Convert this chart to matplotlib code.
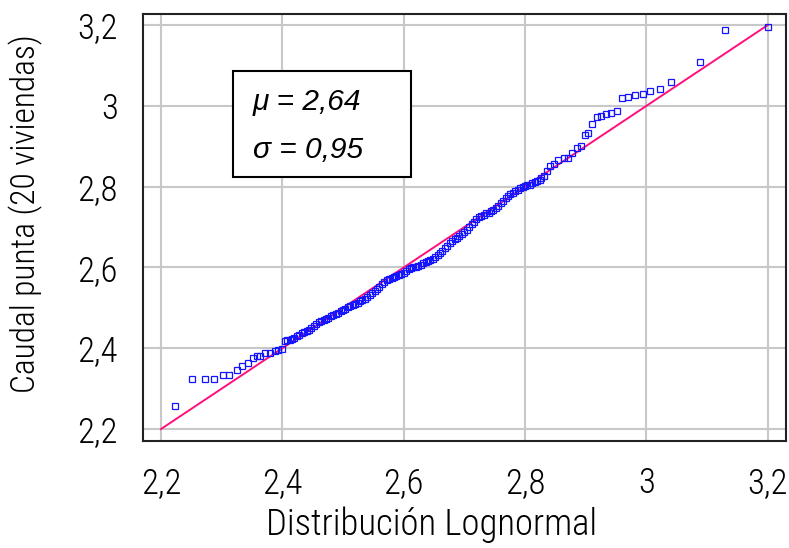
import matplotlib
matplotlib.use("Agg")
import os
import matplotlib.pyplot as plt
from matplotlib import font_manager as fm

# Lognormal Q-Q plot: theoretical quantiles vs observed peak flow (sorted)
theoretical = [
    2.223, 2.251, 2.273, 2.288, 2.302, 2.312, 2.325, 2.333, 2.343, 2.351,
    2.359, 2.363, 2.371, 2.379, 2.388, 2.393, 2.399,
    2.404, 2.408, 2.412, 2.416, 2.420, 2.424, 2.428, 2.432, 2.436, 2.440,
    2.444, 2.448, 2.452, 2.456, 2.460, 2.464, 2.468, 2.472, 2.476, 2.480,
    2.484, 2.488, 2.492, 2.496, 2.500, 2.504, 2.508, 2.512, 2.516, 2.520,
    2.524, 2.528, 2.532, 2.536, 2.540, 2.544, 2.548, 2.552, 2.556, 2.560,
    2.564, 2.568, 2.572, 2.576, 2.580, 2.584, 2.588, 2.592, 2.596, 2.600,
    2.604, 2.608, 2.612, 2.616, 2.620, 2.624, 2.628, 2.632, 2.636, 2.640,
    2.644, 2.648, 2.652, 2.656, 2.660, 2.664, 2.668, 2.672, 2.676, 2.680,
    2.684, 2.688, 2.692, 2.696, 2.700, 2.704, 2.708, 2.712, 2.716, 2.720,
    2.724, 2.728, 2.732, 2.736, 2.740, 2.744, 2.748, 2.752, 2.756, 2.760,
    2.764, 2.768, 2.772, 2.776, 2.780, 2.784, 2.788, 2.792, 2.796, 2.800,
    2.804, 2.808, 2.812, 2.816, 2.820, 2.824,
    2.827, 2.832, 2.836, 2.841, 2.847, 2.855, 2.865, 2.871, 2.878, 2.885,
    2.893, 2.899, 2.904, 2.911, 2.918, 2.926, 2.934, 2.942, 2.952, 2.960,
    2.970, 2.982, 2.994, 3.006, 3.022, 3.041, 3.089, 3.130, 3.200,
]
observed = [
    2.258, 2.324, 2.324, 2.324, 2.334, 2.334, 2.346, 2.357, 2.364, 2.375,
    2.381, 2.381, 2.387, 2.387, 2.393, 2.396, 2.398,
    2.417, 2.420, 2.421, 2.423, 2.426, 2.430, 2.434, 2.437, 2.440, 2.443,
    2.446, 2.450, 2.455, 2.460, 2.465, 2.468, 2.471, 2.473, 2.476, 2.479,
    2.482, 2.485, 2.488, 2.491, 2.494, 2.497, 2.501, 2.504, 2.507, 2.510,
    2.513, 2.516, 2.519, 2.523, 2.528, 2.533, 2.537, 2.541, 2.546, 2.552,
    2.558, 2.564, 2.568, 2.572, 2.575, 2.577, 2.580, 2.582, 2.584, 2.586,
    2.591, 2.595, 2.598, 2.600, 2.602, 2.604, 2.607, 2.610, 2.613, 2.616,
    2.619, 2.622, 2.626, 2.631, 2.636, 2.642, 2.648, 2.654, 2.660, 2.665,
    2.670, 2.674, 2.679, 2.684, 2.689, 2.694, 2.700, 2.707, 2.713, 2.719,
    2.724, 2.728, 2.731, 2.734, 2.736, 2.739, 2.742, 2.747, 2.753, 2.759,
    2.765, 2.771, 2.777, 2.781, 2.785, 2.789, 2.793, 2.796, 2.799, 2.801,
    2.803, 2.805, 2.808, 2.811, 2.813, 2.817,
    2.821, 2.826, 2.839, 2.851, 2.857, 2.865, 2.872, 2.872, 2.884, 2.897,
    2.901, 2.928, 2.932, 2.955, 2.973, 2.976, 2.980, 2.983, 2.987, 3.019,
    3.022, 3.027, 3.030, 3.037, 3.042, 3.060, 3.108, 3.188, 3.196,
]
ref_line = [2.2, 3.2]
tick_values = [2.2, 2.4, 2.6, 2.8, 3.0, 3.2]
tick_labels = ["2,2", "2,4", "2,6", "2,8", "3", "3,2"]
mu_text = "μ = 2,64"
sigma_text = "σ = 0,95"


def condensed_font():
    """Pick a narrow, light sans-serif face for the axis texts, if installed."""
    cands = []
    for f in fm.fontManager.ttflist:
        base = os.path.basename(f.fname).lower()
        narrowish = ("condensed" in base or "narrow" in base
                     or "condensed" in f.name.lower() or "narrow" in f.name.lower()
                     or f.stretch in ("condensed", "semi-condensed"))
        if not narrowish or f.style != "normal":
            continue
        if "bold" in base or "oblique" in base or "italic" in base or "mono" in base:
            continue
        if "serif" in base and "sans" not in base:
            continue
        rank = 9
        for i, key in enumerate(["liberationsansnarrow", "robotocondensed",
                                 "dejavusanscondensed", "opensans"]):
            if key in base.replace("-", "").replace("_", ""):
                rank = i
                break
        w = f.weight if isinstance(f.weight, int) else 400
        cands.append((rank, abs(w - 300), f.fname))
    if cands:
        cands.sort()
        return fm.FontProperties(fname=cands[0][2])
    return fm.FontProperties(family="DejaVu Sans")


narrow_fp = condensed_font()

fig = plt.figure(figsize=(7.89, 5.48), dpi=100)
ax = fig.add_axes([0.181, 0.195, 0.815, 0.779])

ax.set_xlim(2.17, 3.23)
ax.set_ylim(2.17, 3.227)
ax.grid(True, color="#c8c8c8", linewidth=1.5)
ax.set_axisbelow(True)

ax.plot(ref_line, ref_line, color="#ff0f7b", linewidth=1.4, zorder=2)
ax.plot(theoretical, observed, linestyle="none", marker="s", markersize=4.6,
        markerfacecolor="none", markeredgecolor="#1414ff", markeredgewidth=0.9,
        zorder=3)

ax.set_xticks(tick_values)
ax.set_xticklabels(tick_labels)
ax.set_yticks(tick_values)
ax.set_yticklabels(tick_labels)
ax.tick_params(length=0, pad=18)
for lab in ax.get_xticklabels() + ax.get_yticklabels():
    lab.set_fontproperties(narrow_fp)
    lab.set_fontsize(25)

for sp in ax.spines.values():
    sp.set_color("#222222")
    sp.set_linewidth(1.5)

xl = ax.set_xlabel("Distribución Lognormal", fontproperties=narrow_fp)
xl.set_fontsize(26.5)
ax.xaxis.set_label_coords(0.449, -0.152)
yl = ax.set_ylabel("Caudal punta (20 viviendas)", fontproperties=narrow_fp)
yl.set_fontsize(24)
ax.yaxis.set_label_coords(-0.155, 0.534)

# parameter box
box_x0, box_y0 = 233 / 789, 1 - 177 / 548
box = plt.Rectangle((box_x0, box_y0), (411 - 233) / 789, (177 - 71) / 548,
                    transform=fig.transFigure, facecolor="white",
                    edgecolor="black", linewidth=1.5, zorder=5)
fig.add_artist(box)
fig.text(253 / 789, 1 - 102 / 548, mu_text, fontsize=21.5, style="italic",
         family="Liberation Sans", va="center", ha="left", zorder=6)
fig.text(253 / 789, 1 - 150 / 548, sigma_text, fontsize=21.5, style="italic",
         family="Liberation Sans", va="center", ha="left", zorder=6)

fig.savefig("out.png", dpi=100)
